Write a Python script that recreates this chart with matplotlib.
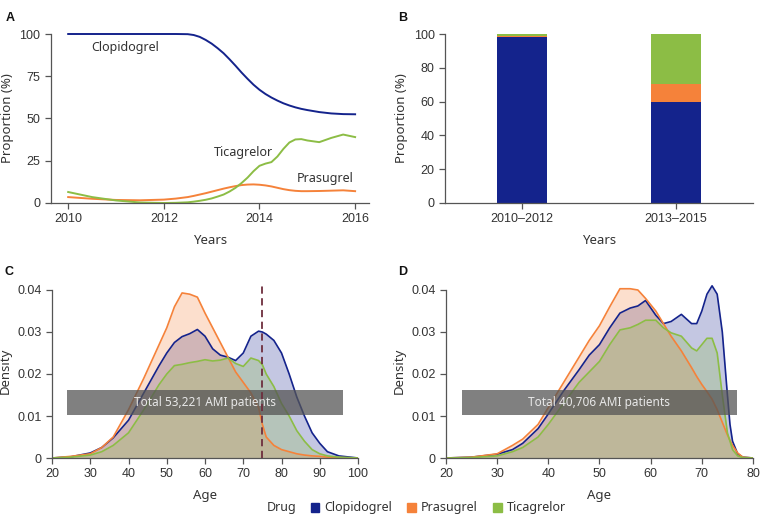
import numpy as np
import matplotlib
matplotlib.use('Agg')
import matplotlib.pyplot as plt
from matplotlib.patches import Patch

# colours
c_clo = '#14238c'
c_pra = '#f5823a'
c_tic = '#8cbd45'

# Panel A: trend of P2Y12 inhibitor use
yearsA = [2010, 2010.5, 2011, 2011.5, 2012, 2012.25, 2012.5, 2012.625, 2012.75, 2012.875,
          2013, 2013.125, 2013.25, 2013.375, 2013.5, 2013.625, 2013.75, 2013.875,
          2014, 2014.125, 2014.25, 2014.375, 2014.5, 2014.625, 2014.75, 2014.875,
          2015, 2015.25, 2015.5, 2015.75, 2016]
clo_A = [100, 100, 100, 100, 100, 100, 99.9, 99.4, 98.3, 96.5,
         94.3, 91.6, 88.6, 85.0, 81.2, 77.2, 73.5, 70.0,
         67.0, 64.5, 62.4, 60.6, 59.0, 57.7, 56.6, 55.7,
         55.0, 53.8, 53.0, 52.6, 52.5]
pra_A = [3.5, 2.5, 1.8, 1.6, 2, 2.6, 3.5, 4.2, 5, 5.8,
         6.7, 7.6, 8.5, 9.3, 10, 10.6, 10.9, 11,
         10.8, 10.4, 9.8, 9.0, 8.2, 7.6, 7.2, 7.0,
         7.0, 7.1, 7.3, 7.5, 7]
tic_A = [6.5, 3.5, 1.5, 0.3, 0, 0.1, 0.4, 0.8, 1.3, 1.9,
         2.7, 3.8, 5.0, 6.8, 9, 11.8, 15, 18.8,
         22, 23.3, 24.2, 27.5, 32.0, 35.8, 37.6, 37.8,
         37.0, 36.0, 38.5, 40.5, 39]

# Panel B: stacked proportions
periods = ['2010–2012', '2013–2015']
clo_B = [98, 60]
pra_B = [1, 10.5]
tic_B = [1, 29.5]

# Panel C: age density, 2010-2012
ageC = [20, 25, 30, 33, 36, 40, 44, 48, 50, 52, 54, 56, 58, 60, 62, 64, 66, 68, 70,
        72, 74, 75, 76, 78, 80, 82, 84, 86, 88, 90, 92, 95, 100]
pra_C = [0, 0.0004, 0.001, 0.0025, 0.005, 0.0115, 0.019, 0.027, 0.031, 0.036, 0.0393, 0.039,
         0.0383, 0.0345, 0.031, 0.0275, 0.024, 0.0205, 0.018, 0.0155, 0.012, 0.008, 0.005,
         0.003, 0.002, 0.0015, 0.001, 0.0007, 0.0005, 0.0004, 0.0002, 0.0001, 0]
clo_C = [0, 0.0003, 0.0012, 0.0025, 0.0048, 0.009, 0.0155, 0.022, 0.025, 0.0275, 0.0289, 0.0296,
         0.0306, 0.029, 0.026, 0.0245, 0.024, 0.0232, 0.025, 0.029, 0.0302, 0.0300, 0.0295,
         0.028, 0.025, 0.02, 0.0145, 0.01, 0.006, 0.0035, 0.0015, 0.0005, 0]
tic_C = [0, 0.0002, 0.0007, 0.0015, 0.003, 0.006, 0.0115, 0.0175, 0.02, 0.022, 0.0223, 0.0227,
         0.023, 0.0234, 0.0231, 0.0233, 0.0238, 0.0225, 0.0218, 0.0238, 0.0232, 0.0222, 0.02,
         0.017, 0.013, 0.01, 0.0065, 0.004, 0.002, 0.001, 0.0005, 0.0002, 0]

# Panel D: age density, 2013-2015
ageD = [20, 25, 30, 33, 35, 38, 40, 43, 46, 48, 50, 52, 54, 56, 57.5, 59, 61, 62.5, 64, 66,
        68, 69, 70, 71, 72, 73, 74, 75, 75.5, 76, 77, 78, 80]
pra_D = [0, 0.0002, 0.001, 0.003, 0.0045, 0.008, 0.012, 0.018, 0.024, 0.028, 0.0315, 0.036,
         0.0403, 0.0403, 0.040, 0.038, 0.035, 0.032, 0.029, 0.0255, 0.0215, 0.0194, 0.0175,
         0.0158, 0.014, 0.0115, 0.0085, 0.0055, 0.0042, 0.003, 0.0012, 0.0002, 0]
clo_D = [0, 0.0002, 0.0009, 0.002, 0.0035, 0.007, 0.0105, 0.016, 0.021, 0.0245, 0.027, 0.031,
         0.0345, 0.0357, 0.0362, 0.0375, 0.034, 0.032, 0.0325, 0.0342, 0.032, 0.032, 0.035,
         0.039, 0.041, 0.039, 0.03, 0.015, 0.008, 0.004, 0.001, 0.0002, 0]
tic_D = [0, 0.0001, 0.0005, 0.0015, 0.0025, 0.005, 0.008, 0.013, 0.018, 0.0205, 0.023, 0.027,
         0.0305, 0.031, 0.0318, 0.0328, 0.0328, 0.031, 0.0298, 0.029, 0.0262, 0.0255, 0.027,
         0.0285, 0.0285, 0.025, 0.015, 0.006, 0.004, 0.002, 0.0005, 0.0001, 0]

tick_font = 'Liberation Sans'
label_font = 'Noto Sans'
txt_col = '#333333'
spine_col = '#555555'


def style(ax):
    for s in ['top', 'right']:
        ax.spines[s].set_visible(False)
    for s in ['left', 'bottom']:
        ax.spines[s].set_color(spine_col)
        ax.spines[s].set_linewidth(0.9)
    ax.tick_params(colors=spine_col, labelcolor=txt_col, labelsize=9, length=4, width=0.9)
    for lab in ax.get_xticklabels() + ax.get_yticklabels():
        lab.set_fontfamily(tick_font)


fig = plt.figure(figsize=(7.63, 5.16), dpi=100)

# ---- A ----
axA = fig.add_axes([0.0668, 0.6066, 0.4168, 0.3275])
axA.plot(yearsA, clo_A, color=c_clo, lw=1.4, clip_on=False)
axA.plot(yearsA, pra_A, color=c_pra, lw=1.4, clip_on=False)
axA.plot(yearsA, tic_A, color=c_tic, lw=1.4, clip_on=False)
axA.set_xlim(2009.64, 2016.29)
axA.set_ylim(0, 100)
axA.set_xticks([2010, 2012, 2014, 2016])
axA.set_yticks([0, 25, 50, 75, 100])
style(axA)
axA.set_xlabel('Years', fontfamily=label_font, fontsize=9.5, color=txt_col, labelpad=6)
axA.set_ylabel('Proportion (%)', fontfamily=label_font, fontsize=9.5, color=txt_col)
axA.text(2011.2, 92, 'Clopidogrel', ha='center', va='center', fontfamily=label_font,
         fontsize=9, color=txt_col)
axA.text(2013.66, 30, 'Ticagrelor', ha='center', va='center', fontfamily=label_font,
         fontsize=9, color=txt_col)
axA.text(2015.37, 14.2, 'Prasugrel', ha='center', va='center', fontfamily=label_font,
         fontsize=9, color=txt_col)

# ---- B ----
axB = fig.add_axes([0.5832, 0.6066, 0.4037, 0.3275])
x = np.arange(len(periods))
w = 0.325
axB.bar(x, clo_B, w, color=c_clo)
axB.bar(x, pra_B, w, bottom=clo_B, color=c_pra)
axB.bar(x, tic_B, w, bottom=np.add(clo_B, pra_B), color=c_tic)
axB.set_xlim(-0.5, 1.5)
axB.set_ylim(0, 100)
axB.set_xticks(x)
axB.set_xticklabels(periods)
axB.set_yticks([0, 20, 40, 60, 80, 100])
style(axB)
axB.set_xlabel('Years', fontfamily=label_font, fontsize=9.5, color=txt_col, labelpad=6)
axB.set_ylabel('Proportion (%)', fontfamily=label_font, fontsize=9.5, color=txt_col)


def density_panel(ax, age, clo, pra, tic, xmax, box, note):
    for y, c in [(clo, c_clo), (pra, c_pra), (tic, c_tic)]:
        ax.fill_between(age, y, color=c, alpha=0.25, lw=0)
    for y, c in [(clo, c_clo), (pra, c_pra), (tic, c_tic)]:
        ax.plot(age, y, color=c, lw=1.2)
    ax.set_xlim(20, xmax)
    ax.set_ylim(0, 0.0415)
    ax.spines['left'].set_bounds(0, 0.04)
    ax.set_yticks([0, 0.01, 0.02, 0.03, 0.04])
    ax.set_yticklabels(['0', '0.01', '0.02', '0.03', '0.04'])
    style(ax)
    ax.set_xlabel('Age', fontfamily=label_font, fontsize=9.5, color=txt_col, labelpad=6)
    ax.set_ylabel('Density', fontfamily=label_font, fontsize=9.5, color=txt_col)
    ax.fill_between(box, 0.0102, 0.0162, color='#555555', alpha=0.75, lw=0, zorder=5)
    ax.text(np.mean(box), 0.0132, note, ha='center', va='center', color='#e8e8e8',
            fontfamily=label_font, fontsize=8.5, zorder=6)


axC = fig.add_axes([0.0682, 0.1124, 0.4010, 0.3378])
density_panel(axC, ageC, clo_C, pra_C, tic_C, 100, [24, 96], 'Total 53,221 AMI patients')
axC.set_xticks(range(20, 101, 10))
for lab in axC.get_xticklabels():
    lab.set_fontfamily(tick_font)
axC.axvline(75, color='#6e2e3e', ls=(0, (4, 2.5)), lw=1.3, ymax=1.0, zorder=7)

axD = fig.add_axes([0.5845, 0.1124, 0.4024, 0.3378])
density_panel(axD, ageD, clo_D, pra_D, tic_D, 80, [23.1, 76.9], 'Total 40,706 AMI patients')
axD.set_xticks(range(20, 81, 10))
for lab in axD.get_xticklabels():
    lab.set_fontfamily(tick_font)

# panel letters
for lx, ly, t in [(10, 18, 'A'), (403, 18, 'B'), (9, 272, 'C'), (403, 272, 'D')]:
    fig.text(lx / 763, 1 - ly / 516, t, fontsize=9, fontweight='bold', color='#111111',
             ha='center', va='center', fontfamily='Liberation Sans')

# legend at bottom
leg_y = 1 - 508 / 516
fig.text(282 / 763, leg_y, 'Drug', ha='center', va='center', fontfamily=label_font,
         fontsize=9, color=txt_col)
handles = [Patch(color=c_clo, label='Clopidogrel'), Patch(color=c_pra, label='Prasugrel'),
           Patch(color=c_tic, label='Ticagrelor')]
leg = fig.legend(handles=handles, loc='center left', bbox_to_anchor=(303 / 763, leg_y),
                 ncol=3, frameon=False, handlelength=0.7, handleheight=0.7,
                 handletextpad=0.4, columnspacing=1.2, borderpad=0.1,
                 prop={'family': label_font, 'size': 9})
for t in leg.get_texts():
    t.set_color(txt_col)

fig.savefig('out.png', dpi=100)
